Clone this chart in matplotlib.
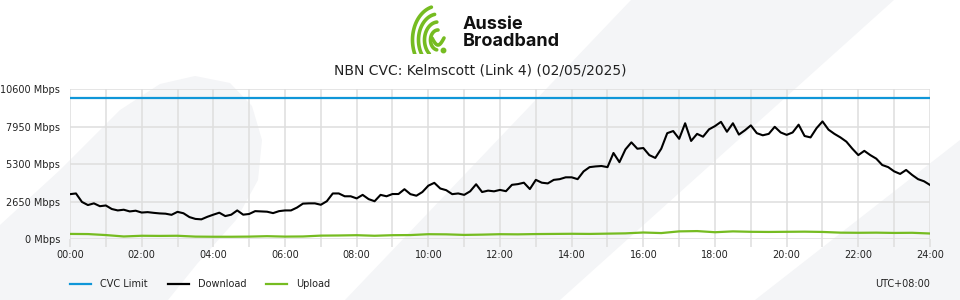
import numpy as np
import matplotlib; matplotlib.use("Agg")
import matplotlib.pyplot as plt
from matplotlib.lines import Line2D

title = "NBN CVC: Kelmscott (Link 4) (02/05/2025)"
cvc_limit = 10000  # Mbps
y_ticks = [0, 2650, 5300, 7950, 10600]
x_labels = ["00:00", "02:00", "04:00", "06:00", "08:00", "10:00", "12:00",
            "14:00", "16:00", "18:00", "20:00", "22:00", "24:00"]

# download, Mbps, one reading every 10 minutes from 00:00 to 24:00
download = [
    3190, 3240, 2640, 2420, 2540, 2340, 2390, 2140, 2040, 2090, 1970, 2020,
    1890, 1920, 1870, 1830, 1810, 1730, 1940, 1840, 1570, 1440, 1410, 1590,
    1740, 1880, 1640, 1740, 2040, 1740, 1790, 1990, 1970, 1950, 1850, 1990,
    2040, 2040, 2240, 2520, 2540, 2540, 2440, 2690, 3240, 3240, 3040, 3040,
    2890, 3140, 2840, 2690, 3140, 3040, 3200, 3200, 3540, 3190, 3080, 3340,
    3790, 3990, 3590, 3470, 3190, 3240, 3140, 3390, 3890, 3340, 3440, 3390,
    3490, 3400, 3850, 3900, 4000, 3550, 4200, 4000, 3950, 4200, 4250, 4380,
    4380, 4250, 4800, 5100, 5150, 5180, 5100, 6100, 5450, 6350, 6850, 6400,
    6450, 5950, 5750, 6400, 7500, 7650, 7100, 8200, 6950, 7450, 7250, 7770,
    8000, 8300, 7600, 8200, 7400, 7700, 8050, 7500, 7350, 7450, 7950, 7550,
    7380, 7550, 8100, 7300, 7200, 7850, 8330, 7750, 7450, 7200, 6900, 6400,
    5950, 6250, 5950, 5700, 5250, 5100, 4800, 4620, 4900, 4550, 4250, 4100,
    3840,
]
# upload, Mbps, one reading every 30 minutes
upload = [
    380, 370, 300, 200, 250, 240, 250, 190, 180, 180, 190, 220,
    190, 200, 260, 270, 290, 250, 290, 300, 360, 350, 310, 330,
    360, 350, 370, 380, 390, 380, 400, 420, 480, 440, 560, 580,
    500, 560, 530, 520, 530, 540, 520, 470, 460, 470, 450, 460,
    410,
]

BLUE = "#0f96d8"
GREEN = "#76bc21"
GRID = "#dedede"
BGSHAPE = "#f4f5f7"
TXT = "#222222"

t_down = np.arange(len(download)) / 6.0
t_up = np.arange(len(upload)) / 2.0

fig = plt.figure(figsize=(9.6, 3.0), dpi=100)

# light background shapes (pixel coords)
bg = fig.add_axes([0, 0, 1, 1], zorder=0)
bg.set_xlim(0, 960); bg.set_ylim(300, 0); bg.axis("off")
leaf = [(0, 300), (0, 225), (60, 170), (120, 110), (160, 84), (195, 76), (230, 83),
        (252, 106), (262, 140), (258, 180), (236, 220), (197, 264), (168, 300)]
bg.fill(*zip(*leaf), color=BGSHAPE, lw=0)
bg.fill([631, 894, 560, 345], [0, 0, 300, 300], color=BGSHAPE, lw=0)
bg.fill([960, 960, 755], [140, 300, 300], color=BGSHAPE, lw=0)

# logo
lg = fig.add_axes([398 / 960, 1 - 54 / 300, 60 / 960, 50 / 300], zorder=2)
lg.set_xlim(398, 458); lg.set_ylim(54, 4); lg.axis("off")
for r, a0, a1 in [(34, 105, 205), (26, 100, 215), (18, 95, 230), (10, 90, 260)]:
    a = np.radians(np.linspace(a0, a1, 40))
    lg.plot(438 + r * np.cos(a) * 0.75, 40 - r * np.sin(a), color=GREEN, lw=2.6,
            solid_capstyle="round")
s = np.linspace(0, 1, 30)
lg.plot(432 + 12 * s, 38 + 7 * np.sin(np.pi * s), color=GREEN, lw=2.6,
        solid_capstyle="round")
lg.plot([443], [50], "o", color=GREEN, ms=3.2)
fig.text(463 / 960, 1 - 33 / 300, "Aussie\nBroadband", ha="left", va="center",
         fontsize=13, fontweight="bold", family="Inter", linespacing=0.95, color="#111111")

fig.text(0.5, 1 - 70 / 300, title, ha="center", va="center", fontsize=10, color=TXT)

ax = fig.add_axes([70 / 960, 1 - 239.3 / 300, 860 / 960, 150 / 300], zorder=1)
ax.set_facecolor("none")
ax.axhline(cvc_limit, color=BLUE, lw=1.6, zorder=3)
ax.plot(t_down, download, color="black", lw=1.5, zorder=4)
ax.plot(t_up, upload, color=GREEN, lw=1.6, zorder=4)

ax.set_xlim(0, 24); ax.set_ylim(0, 10600)
ax.set_yticks(y_ticks)
ax.set_yticklabels([f"{v} Mbps" for v in y_ticks])
ax.set_xticks(range(0, 25))
ax.set_xticklabels([x_labels[h // 2] if h % 2 == 0 else "" for h in range(25)])
for sp in ax.spines.values():
    sp.set_visible(False)
ax.grid(True, color=GRID, lw=1.1, zorder=0)
ax.tick_params(axis="x", length=6, width=1.1, color=GRID, pad=2, labelsize=7, labelcolor=TXT)
ax.tick_params(axis="y", length=0, pad=7, labelsize=7, labelcolor=TXT)

handles = [Line2D([], [], color=BLUE, lw=1.6), Line2D([], [], color="black", lw=1.6),
           Line2D([], [], color=GREEN, lw=1.6)]
fig.legend(handles, ["CVC Limit", "Download", "Upload"], loc="center left",
           bbox_to_anchor=(70 / 960, 1 - 284 / 300), frameon=False, ncol=3, fontsize=7,
           handlelength=2.16, handletextpad=0.93, columnspacing=2.06, borderpad=0,
           borderaxespad=0, labelcolor=TXT)
fig.text(930 / 960, 1 - 284 / 300, "UTC+08:00", ha="right", va="center", fontsize=7, color=TXT)

fig.savefig("out.png", dpi=100)
